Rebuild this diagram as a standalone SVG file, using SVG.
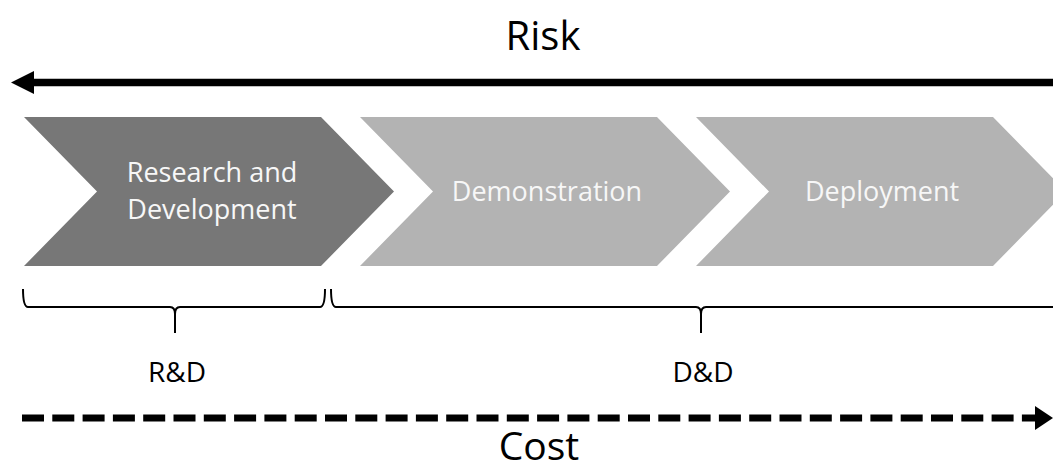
<svg xmlns="http://www.w3.org/2000/svg" width="1053" height="473" viewBox="0 0 1053 473">
  <style>
    .stage-dark { fill: #777777; }
    .stage-light { fill: #b3b3b3; }
    .stage-text { font-family: "Open Sans", "Liberation Sans", sans-serif; font-size: 27px; fill: #f7f7f7; text-anchor: middle; }
    .label { font-family: "Open Sans", "Liberation Sans", sans-serif; fill: #000000; text-anchor: middle; }
    .brace { fill: none; stroke: #000000; stroke-width: 2; stroke-linejoin: round; }
  </style>

  <!-- Axis titles -->
  <text id="risk-label" class="label" x="543" y="50" font-size="40">Risk</text>
  <text id="cost-label" class="label" x="539" y="460" font-size="39">Cost</text>

  <!-- Stage chevrons -->
  <g id="stage-rnd">
    <polygon class="stage-dark" points="24,117 321,117 394,191.5 321,266 24,266 97,191.5"/>
    <text class="stage-text" x="212" y="181.5">Research and<tspan x="212" dy="37">Development</tspan></text>
  </g>
  <g id="stage-demonstration">
    <polygon class="stage-light" points="360,117 657,117 730,191.5 657,266 360,266 433,191.5"/>
    <text class="stage-text" x="547" y="201">Demonstration</text>
  </g>
  <g id="stage-deployment">
    <polygon class="stage-light" points="696,117 993,117 1066,191.5 993,266 696,266 769,191.5"/>
    <text class="stage-text" x="882" y="201">Deployment</text>
  </g>

  <!-- Group labels -->
  <g id="group-rnd">
    <text class="label" x="177" y="382" font-size="28">R&amp;D</text>
  </g>
  <g id="group-dnd">
    <text class="label" x="703" y="382" font-size="28">D&amp;D</text>
  </g>

  <g id="connectors">
    <!-- Risk arrow, pointing left -->
    <line x1="32" y1="82.5" x2="1053" y2="82.5" stroke="#000000" stroke-width="7.5"/>
    <polygon points="11,82.5 34,71 34,94" fill="#000000"/>

    <!-- Braces under the stages -->
    <path class="brace" d="M23,289 Q23,307 28,307 L170,307 Q175,307 175,314 L175,333 M175,314 Q175,307 180,307 L320,307 Q325,307 325,289"/>
    <path class="brace" d="M331,289 Q331,307 336,307 L696,307 Q701,307 701,314 L701,333 M701,314 Q701,307 706,307 L1060,307"/>

    <!-- Cost arrow, dashed, pointing right -->
    <line x1="22" y1="418" x2="1036" y2="418" stroke="#000000" stroke-width="7" stroke-dasharray="22 8.3"/>
    <polygon points="1035,406 1053,418 1035,430" fill="#000000"/>
  </g>
</svg>
